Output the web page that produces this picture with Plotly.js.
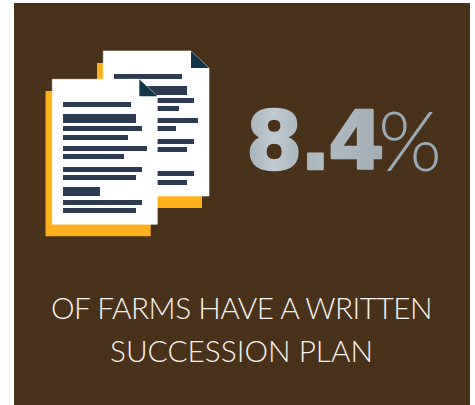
<!DOCTYPE html>
<html>
<head>
<meta charset="utf-8">
<script src="https://cdn.plot.ly/plotly-3.0.1.min.js"></script>
<style>html,body{margin:0;padding:0;background:#fff}#chart{width:475px;height:405px}</style>
</head>
<body>
<div id="chart"></div>
<script>
// Headline figure and caption
const shareValue = 8.4;
const shareUnit = "%";
const captionLines = ["OF FARMS HAVE A WRITTEN", "SUCCESSION PLAN"];

// Document sheets: [x0, y0, x1, y1] in page pixels
const panel = [14, 3, 470, 405];
const backShadow = [97, 63, 202, 208];
const frontShadow = [45.5, 91, 150.7, 236.3];
const backSheet = [103.3, 51, 209, 196];
const frontSheet = [52.3, 79.3, 157.3, 224.3];
const foldSize = [18, 17];

// Text rows on each sheet: [x0, y0, x1, y1]
const backRows = [
  [114, 74, 182, 79], [114, 86, 187, 95], [114, 98, 194, 103], [114, 106, 179, 111],
  [114, 118, 198, 123], [114, 126, 176, 131], [114, 139, 194, 144], [114, 147, 187, 152],
  [114, 171, 194, 176], [114, 180, 187, 185]
];
const frontRows = [
  [63, 102, 131, 107], [63, 114, 136, 123], [63, 126, 142, 131], [63, 135, 128, 140],
  [63, 146, 147, 151], [63, 154, 124, 159], [63, 167, 142, 172], [63, 175, 136, 180],
  [63, 187, 100, 196], [63, 200, 142, 205], [63, 208, 136, 213]
];

const BROWN = "#4a3119", AMBER = "#fdb01b", NAVY = "#2c3a52", TEAL = "#123648";
const STEEL = "#a9b5bc", PERCENT = "#9aabb6", CAPTION = "#f6f3ee";

const rect = (r, fill) => ({
  type: "rect", xref: "x", yref: "y", layer: "above",
  x0: r[0], y0: r[1], x1: r[2], y1: r[3],
  fillcolor: fill, line: {width: 0}
});

// Sheet outline with the top right corner cut away, plus the folded flap
function sheet(r) {
  const [x0, y0, x1, y1] = r;
  const fx = x1 - foldSize[0], fy = y0 + foldSize[1];
  return [
    {type: "path", xref: "x", yref: "y", layer: "above",
     path: `M${x0},${y0} L${fx},${y0} L${x1},${fy} L${x1},${y1} L${x0},${y1} Z`,
     fillcolor: "#ffffff", line: {width: 1, color: "rgba(255,255,255,0.6)"}},
    {type: "path", xref: "x", yref: "y", layer: "above",
     path: `M${fx},${y0} L${x1},${fy} L${fx},${fy} Z`,
     fillcolor: TEAL, line: {width: 0}}
  ];
}

const shapes = [
  rect(panel, BROWN),
  rect(backShadow, AMBER),
  ...sheet(backSheet),
  ...backRows.map(r => rect(r, NAVY)),
  rect(frontShadow, AMBER),
  ...sheet(frontSheet),
  ...frontRows.map(r => rect(r, NAVY))
];

const label = (text, x, y, font) => ({
  text, x, y, xref: "x", yref: "y", xanchor: "center", yanchor: "middle",
  showarrow: false, font
});

const captionFont = {family: "Lato", size: 29.8, color: CAPTION, weight: 300};

const annotations = [
  label(`<span style="letter-spacing:-2.4px">${shareValue}</span>`, 313.5, 140.5,
        {family: "DejaVu Sans", size: 81, color: STEEL, weight: 700}),
  label(shareUnit, 409.5, 138.5, {family: "Lato", size: 82, color: PERCENT, weight: 300}),
  label(`<span style="letter-spacing:-0.5px">${captionLines[0]}</span>`, 241, 307, captionFont),
  label(captionLines[1], 241, 350, captionFont)
];

const hiddenAxis = range => ({range, visible: false, fixedrange: true});

Plotly.newPlot("chart", [{x: [], y: [], type: "scatter"}], {
  width: 475, height: 405,
  margin: {l: 0, r: 0, t: 0, b: 0},
  paper_bgcolor: "#ffffff", plot_bgcolor: "#ffffff",
  showlegend: false,
  xaxis: hiddenAxis([0, 475]),
  yaxis: hiddenAxis([405, 0]),
  shapes, annotations
}, {displayModeBar: false, staticPlot: true}).then(gd => {
  // Brushed metal fill and a heavier outline for the headline digits
  const svg = gd.querySelector(".main-svg");
  const ns = "http://www.w3.org/2000/svg";
  const grad = document.createElementNS(ns, "linearGradient");
  grad.id = "steelFill";
  grad.setAttribute("x1", 0); grad.setAttribute("x2", 1);
  grad.setAttribute("y1", 0); grad.setAttribute("y2", 0);
  [[0, "#a6b2b9"], [0.2, "#bfcad0"], [0.42, "#a8b4bb"], [0.56, "#b0bbc2"], [1, "#a3aeb6"]].forEach(([o, c]) => {
    const s = document.createElementNS(ns, "stop");
    s.setAttribute("offset", o);
    s.setAttribute("stop-color", c);
    grad.appendChild(s);
  });
  svg.querySelector("defs").appendChild(grad);
  const digits = gd.querySelector(".annotation text");
  digits.style.fill = "url(#steelFill)";
  digits.style.stroke = "url(#steelFill)";
  digits.style.strokeWidth = "2.5px";
  digits.style.strokeLinejoin = "round";
});
</script>
</body>
</html>
